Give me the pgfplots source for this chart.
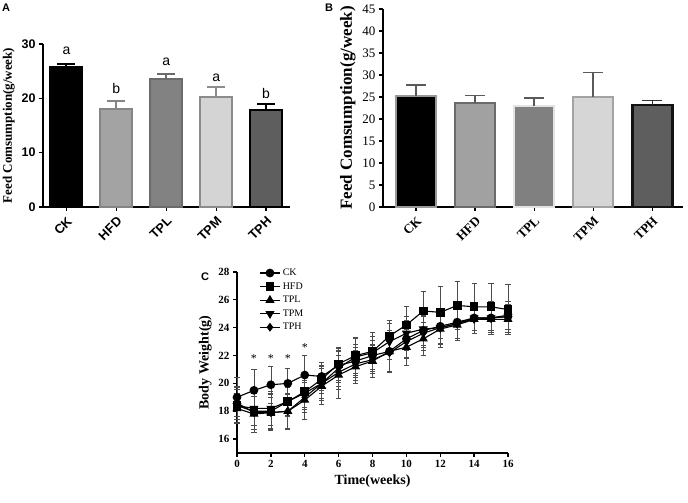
\documentclass[border=0pt]{standalone}
\usepackage{fontspec}
\setmainfont{Liberation Serif}
\newfontfamily\arial{Liberation Sans}
\usepackage{pgfplots}
\usepackage{pgfplotstable}
\pgfplotsset{compat=1.18}

% weekly body weight, mean and SD per group
\pgfplotstableread{
w  ck   ckE  hfd  hfdE tpl  tplE tpm  tpmE tph  tphE
0  19.0 1.4  18.4 1.2  18.2 1.1  18.4 1.3  18.6 1.2
1  19.5 1.5  18.0 1.3  17.8 1.3  18.2 1.2  17.9 1.2
2  19.9 1.3  18.0 1.3  17.9 1.3  18.2 1.2  17.9 1.1
3  20.0 1.1  18.7 1.0  18.0 1.3  18.7 1.1  18.0 1.2
4  20.6 1.4  19.4 1.1  18.8 1.4  19.3 1.2  19.0 1.1
5  20.5 1.0  20.3 1.0  19.8 1.3  20.0 1.2  20.0 1.1
6  21.3 1.2  21.4 1.2  20.6 1.7  21.1 1.3  20.8 1.2
7  21.6 1.2  22.0 1.3  21.2 1.2  21.9 1.3  21.4 1.2
8  22.0 1.1  22.3 1.4  21.6 1.2  22.2 1.2  21.7 1.0
9  22.3 1.4  23.4 1.1  22.3 1.5  23.0 1.3  22.2 1.3
10 23.2 1.3  24.2 1.3  22.6 1.3  23.6 1.2  23.0 1.2
11 23.8 1.1  25.2 1.4  23.2 1.2  23.9 1.3  23.6 1.2
12 24.1 1.2  25.1 1.9  23.9 1.3  24.0 1.2  24.0 1.1
13 24.4 1.2  25.6 1.7  24.2 1.1  24.3 1.2  24.3 1.1
14 24.7 1.1  25.5 1.7  24.6 1.0  24.7 1.1  24.6 1.0
15 24.7 1.0  25.5 1.7  24.6 1.1  24.7 1.2  24.7 1.0
16 24.8 1.1  25.3 1.8  24.6 1.1  24.8 1.1  24.9 1.0
}\bw

\pgfplotsset{
  gp/.style={scale only axis, axis x line*=bottom, axis y line*=left,
    tick align=outside, axis line style={line width=1.3pt},
    major tick style={line width=1.3pt, black}, major tick length=4pt,
    /pgf/number format/assume math mode=true, clip=false},
  bar/.style={bar shift=0pt, line width=2pt,
    error bars/y dir=plus, error bars/y explicit,
    error bars/error bar style={line width=2pt, #1},
    error bars/error mark options={rotate=90, mark size=9pt, line width=2pt, #1}},
  barB/.style={bar shift=0pt, line width=2.5pt,
    error bars/y dir=plus, error bars/y explicit,
    error bars/error bar style={line width=1.5pt, #1},
    error bars/error mark options={rotate=90, mark size=10pt, line width=1.5pt, #1}},
  wt/.style={black, line width=1.1pt,
    error bars/y dir=both, error bars/y explicit,
    error bars/error bar style={line width=0.7pt, black!70},
    error bars/error mark options={rotate=90, mark size=2.6pt, line width=0.7pt, black!70}},
}

\begin{document}
\begin{tikzpicture}
\useasboundingbox (0,0) rectangle (688pt,503pt);

\node[font=\arial\bfseries\fontsize{11}{13}\selectfont] at (6pt,495pt) {A};
\node[font=\arial\bfseries\fontsize{11}{13}\selectfont] at (329pt,495pt) {B};
\node[font=\arial\bfseries\fontsize{11}{13}\selectfont] at (205pt,226pt) {C};

% panel A
\begin{axis}[gp, at={(43pt,296pt)}, anchor=south west, width=247pt, height=163pt,
  ybar, bar width=32pt,
  xmin=-0.47, xmax=4.48, ymin=0, ymax=30, ytick={0,10,20,30},
  xtick={0,1,2,3,4}, xticklabels={CK,HFD,TPL,TPM,TPH},
  tick label style={font=\arial\bfseries\fontsize{12.5}{14}\selectfont},
  xticklabel style={font=\arial\bfseries\fontsize{13}{14}\selectfont, rotate=45, anchor=north east},
  ylabel={Feed Comsumption(g/week)},
  ylabel style={font=\bfseries\fontsize{13}{15}\selectfont}]
\addplot[bar=black, fill=black, draw=black] coordinates {(0,25.8) +- (0,0.6)};
\addplot[bar=black!48, fill=black!36, draw=black!48] coordinates {(1,18.0) +- (0,1.6)};
\addplot[bar=black!58, fill=black!49, draw=black!58] coordinates {(2,23.5) +- (0,0.9)};
\addplot[bar=black!45, fill=black!17, draw=black!45] coordinates {(3,20.2) +- (0,1.9)};
\addplot[bar=black, fill=black!63, draw=black] coordinates {(4,17.8) +- (0,1.1)};
\begin{scope}[font=\arial\fontsize{14}{16}\selectfont]
\node at (axis cs:0,28.8) {a};
\node at (axis cs:1,21.9) {b};
\node at (axis cs:2,26.8) {a};
\node at (axis cs:3,23.8) {a};
\node at (axis cs:4,20.8) {b};
\end{scope}
\end{axis}

% panel B
\begin{axis}[gp, at={(383pt,296pt)}, anchor=south west, width=300pt, height=198pt,
  ybar, bar width=40pt,
  xmin=-0.56, xmax=4.52, ymin=0, ymax=45, ytick={0,5,...,45},
  xtick={0,1,2,3,4}, xticklabels={CK,HFD,TPL,TPM,TPH},
  tick label style={font=\fontsize{13}{15}\selectfont},
  xticklabel style={font=\bfseries\fontsize{13}{15}\selectfont, rotate=45, anchor=north east},
  ylabel={Feed Comsumption(g/week)},
  ylabel style={font=\bfseries\fontsize{17}{19}\selectfont}]
\addplot[barB=black!65, fill=black, draw=black!40] coordinates {(0,25.2) +- (0,2.5)};
\addplot[barB=black!65, fill=black!37, draw=black!58] coordinates {(1,23.6) +- (0,1.7)};
\addplot[barB=black!65, fill=black!50, draw=black!11] coordinates {(2,23.0) +- (0,1.8)};
\addplot[barB=black!65, fill=black!16, draw=black!36] coordinates {(3,25.0) +- (0,5.6)};
\addplot[barB=black!80, fill=black!63, draw=black!93] coordinates {(4,23.2) +- (0,1.0)};
\end{axis}

% panel C
\begin{axis}[gp, at={(237pt,50pt)}, anchor=south west, width=271pt, height=181pt,
  xmin=0, xmax=16, ymin=15, ymax=28,
  xtick={0,2,...,16}, ytick={16,18,...,28},
  tick label style={font=\bfseries\fontsize{11}{13}\selectfont},
  xlabel={Time(weeks)}, ylabel={Body Weight(g)},
  label style={font=\bfseries\fontsize{14}{16}\selectfont},
  legend style={draw=none, fill=none, at={(0.07,1.04)}, anchor=north west,
    font=\fontsize{10}{11}\selectfont, row sep=1.5pt},
  legend cell align=left,
  legend image code/.code={\draw[mark repeat=2, mark phase=2]
    plot coordinates {(0cm,0cm) (0.36cm,0cm) (0.72cm,0cm)};}]
\addplot[wt, mark=*, mark size=3.8pt] table[x=w, y=ck, y error=ckE] {\bw};
\addlegendentry{CK}
\addplot[wt, mark=square*, mark size=3.8pt] table[x=w, y=hfd, y error=hfdE] {\bw};
\addlegendentry{HFD}
\addplot[wt, mark=triangle*, mark size=4.2pt] table[x=w, y=tpl, y error=tplE] {\bw};
\addlegendentry{TPL}
\addplot[wt, mark=triangle*, mark size=4.2pt, mark options={rotate=180}] table[x=w, y=tpm, y error=tpmE] {\bw};
\addlegendentry{TPM}
\addplot[wt, mark=diamond*, mark size=3.6pt] table[x=w, y=tph, y error=tphE] {\bw};
\addlegendentry{TPH}
\begin{scope}[font=\fontsize{12}{14}\selectfont]
\node at (axis cs:1,21.8) {*};
\node at (axis cs:2,21.8) {*};
\node at (axis cs:3,21.8) {*};
\node at (axis cs:4,22.6) {*};
\end{scope}
\end{axis}
\end{tikzpicture}
\end{document}
